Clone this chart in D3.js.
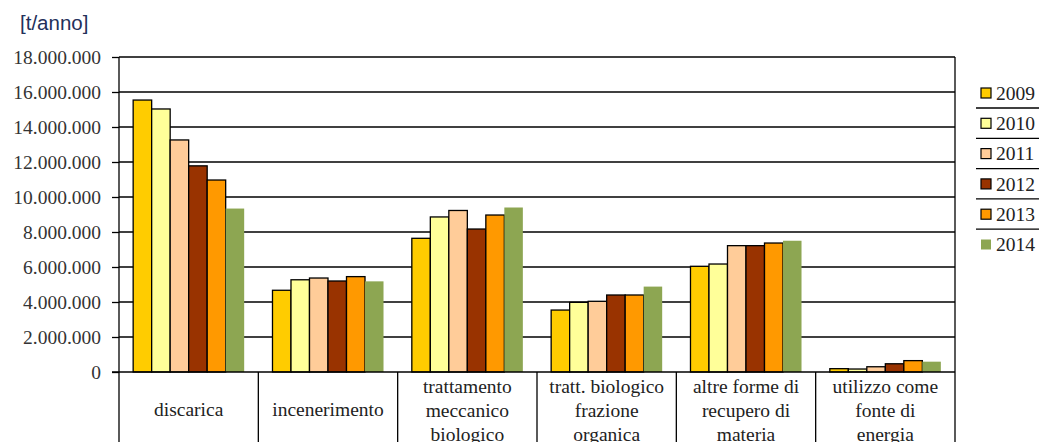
<!DOCTYPE html>
<html><head><meta charset="utf-8">
<script src="https://cdn.jsdelivr.net/npm/d3@7"></script>
<style>
html,body{margin:0;padding:0;background:#fff;}
svg{display:block;}
.serif{font-family:"Liberation Serif","DejaVu Serif","Times New Roman",Times,serif;}
.sans{font-family:"Liberation Sans",Arial,sans-serif;}
</style></head>
<body>
<svg id="chart" width="1039" height="442"></svg>
<script>
const categories = [
  "discarica",
  "incenerimento",
  "trattamento\nmeccanico\nbiologico",
  "tratt. biologico\nfrazione\norganica",
  "altre forme di\nrecupero di\nmateria",
  "utilizzo come\nfonte di\nenergia"
];
const years = ["2009","2010","2011","2012","2013","2014"];
const v2009 = [15540000, 4670000, 7640000, 3540000, 6040000, 190000];
const v2010 = [15030000, 5270000, 8860000, 3980000, 6170000, 170000];
const v2011 = [13260000, 5370000, 9230000, 4040000, 7220000, 300000];
const v2012 = [11780000, 5200000, 8170000, 4400000, 7220000, 470000];
const v2013 = [10970000, 5450000, 8970000, 4400000, 7370000, 650000];
const v2014 = [ 9340000, 5180000, 9400000, 4880000, 7500000, 590000];
const yTicks = [0,2000000,4000000,6000000,8000000,10000000,12000000,14000000,16000000,18000000];
const colors = ["#FFCC00","#FFFF99","#FFCC99","#993300","#FF9900","#8DA652"];
const unitLabel = "[t/anno]";

(function(){
const series = [v2009, v2010, v2011, v2012, v2013, v2014];

const svg = d3.select("#chart");
const mLeft = 119, mRight = 955, mTop = 57, mBottom = 372;

const y = d3.scaleLinear().domain([0, 18000000]).range([mBottom, mTop]);
const x0 = d3.scaleBand().domain(d3.range(categories.length)).range([mLeft, mRight]).padding(0);
const x1 = d3.scaleBand().domain(years).range([0, x0.bandwidth()]).paddingInner(0).paddingOuter(0.765);

const loc = d3.formatLocale({decimal: ",", thousands: ".", grouping: [3], currency: ["", ""]});
const fmt = loc.format(",d");

// gridlines
svg.append("g").selectAll("line").data(yTicks.filter(d => d > 0)).join("line")
  .attr("x1", mLeft).attr("x2", mRight)
  .attr("y1", d => y(d)).attr("y2", d => y(d))
  .attr("stroke", "#000").attr("stroke-width", 1.3);

// y axis
const yAxis = d3.axisLeft(y).tickValues(yTicks).tickFormat(fmt).tickSize(7).tickPadding(11);
const ya = svg.append("g").attr("transform", `translate(${mLeft},0)`).call(yAxis);
ya.attr("font-family", null).attr("font-size", null);
ya.select(".domain").remove();
ya.selectAll(".tick line").attr("stroke", "#000").attr("stroke-width", 1.3);
ya.selectAll(".tick text").attr("class", "serif")
  .style("font-size", "19.5px").attr("fill", "#333");

// bars
const g = svg.append("g");
categories.forEach((c, ci) => {
  const gg = g.append("g").attr("transform", `translate(${x0(ci)},0)`);
  years.forEach((yr, si) => {
    const val = series[si][ci];
    gg.append("rect")
      .attr("x", x1(yr)).attr("width", x1.bandwidth())
      .attr("y", y(val)).attr("height", y(0) - y(val))
      .attr("fill", colors[si])
      .attr("stroke", si === 5 ? "none" : "#000")
      .attr("stroke-width", 1.3);
  });
});

// frame
svg.append("line").attr("x1", mLeft).attr("x2", mLeft).attr("y1", mTop).attr("y2", 442)
  .attr("stroke", "#000").attr("stroke-width", 1.3);
svg.append("line").attr("x1", mRight).attr("x2", mRight).attr("y1", mTop).attr("y2", 442)
  .attr("stroke", "#000").attr("stroke-width", 1.3);
svg.append("line").attr("x1", mLeft - 7).attr("x2", mRight).attr("y1", mBottom).attr("y2", mBottom)
  .attr("stroke", "#000").attr("stroke-width", 1.3);
svg.append("g").selectAll("line").data(d3.range(1, categories.length)).join("line")
  .attr("x1", d => x0(d)).attr("x2", d => x0(d)).attr("y1", mBottom).attr("y2", 442)
  .attr("stroke", "#000").attr("stroke-width", 1.3);

// category labels
categories.forEach((c, ci) => {
  const lines = c.split("\n");
  const cx = x0(ci) + x0.bandwidth() / 2;
  const t = svg.append("text").attr("class", "serif")
    .attr("text-anchor", "middle")
    .style("font-size", "19.5px").attr("fill", "#222");
  const startY = lines.length === 1 ? 409 : 386;
  lines.forEach((l, li) => {
    t.append("tspan").attr("x", cx).attr("y", startY + li * 24).attr("dy", "0.35em").text(l);
  });
});

// unit label
svg.append("text").attr("class", "sans").attr("x", 20).attr("y", 30)
  .style("font-size", "20.5px").attr("fill", "#23305a").text(unitLabel);

// legend
const lg = svg.append("g");
years.forEach((yr, i) => {
  const cy = 93 + i * 30.3;
  lg.append("rect").attr("x", 981).attr("y", cy - 5).attr("width", 10).attr("height", 10)
    .attr("fill", colors[i]).attr("stroke", i === 5 ? "none" : "#000").attr("stroke-width", 1.2);
  lg.append("text").attr("class", "serif").attr("x", 996).attr("y", cy).attr("dy", "0.35em")
    .style("font-size", "19.5px").attr("fill", "#222").text(yr);
  if (i < years.length - 1) {
    lg.append("line").attr("x1", 976).attr("x2", 1039).attr("y1", cy + 15).attr("y2", cy + 15)
      .attr("stroke", "#000").attr("stroke-width", 1.3);
  }
});
})();
</script>
</body></html>
